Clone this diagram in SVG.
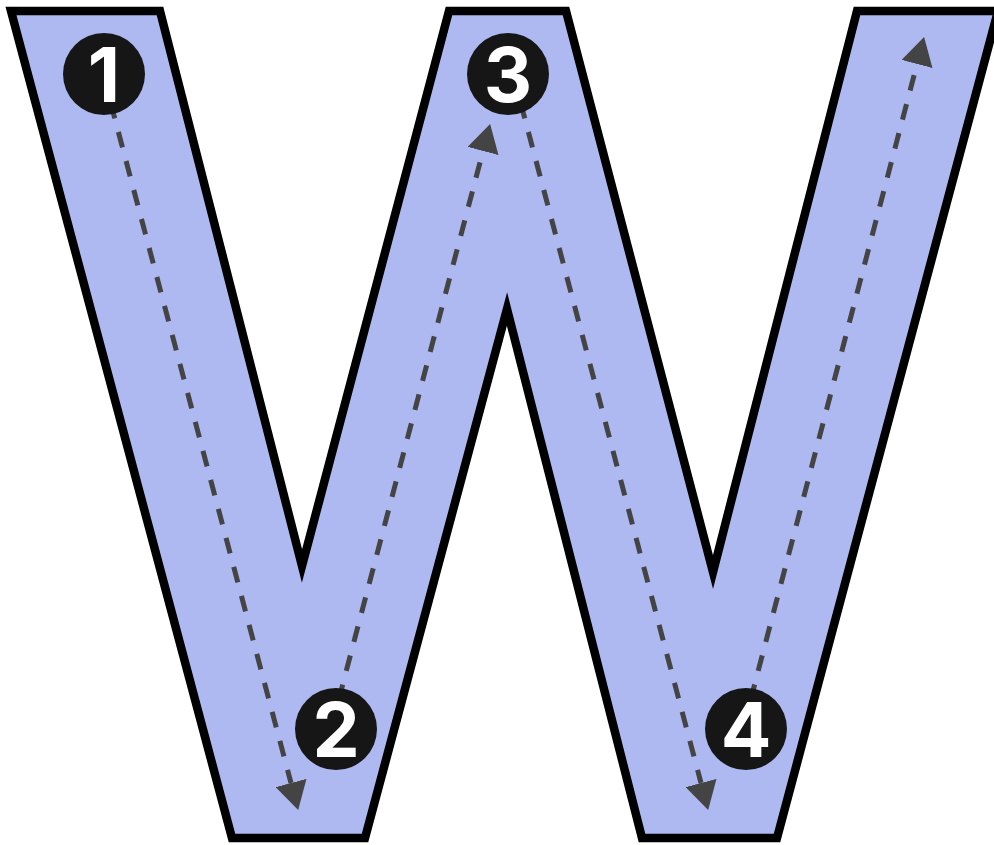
<svg xmlns="http://www.w3.org/2000/svg" width="994" height="845" viewBox="0 0 994 845">
  <style>
    .letter { fill: #adb9f0; stroke: #000; stroke-width: 8.5; stroke-linejoin: miter; stroke-miterlimit: 10; }
    .path { fill: none; stroke: #444; stroke-width: 5; stroke-dasharray: 16 14; marker-end: url(#arrow); }
    .badge { fill: #161616; }
    .num { fill: #fff; font-family: Inter, "Liberation Sans", sans-serif; font-weight: 700; font-size: 75px; text-anchor: middle; }
  </style>
  <defs>
    <marker id="arrow" markerUnits="userSpaceOnUse" viewBox="0 0 28 32" markerWidth="28" markerHeight="32" refX="0" refY="16" orient="auto">
      <path d="M0,0 L28,16 L0,32 Z" fill="#444"/>
    </marker>
  </defs>
  <g id="letter-w">
    <polygon class="letter" points="11,11 160,11 302,566 449,11 566,11 713,572 857,11 998,11 777,838 642,838 507,309 365,838 232,838"/>
  </g>
  <g id="connectors">
    <line class="path" x1="103" y1="74" x2="291" y2="783"/>
    <line class="path" x1="331" y1="729" x2="483" y2="151"/>
    <line class="path" x1="513" y1="74" x2="701" y2="783"/>
    <line class="path" x1="743" y1="729" x2="917" y2="64"/>
  </g>
  <g id="step-1">
    <circle class="badge" cx="104" cy="74" r="41"/>
    <text class="num" x="104" y="102">1</text>
  </g>
  <g id="step-2">
    <circle class="badge" cx="336" cy="729" r="41"/>
    <text class="num" x="336" y="757">2</text>
  </g>
  <g id="step-3">
    <circle class="badge" cx="508" cy="74" r="41"/>
    <text class="num" x="508" y="102">3</text>
  </g>
  <g id="step-4">
    <circle class="badge" cx="746" cy="729" r="41"/>
    <text class="num" x="746" y="757">4</text>
  </g>
</svg>
